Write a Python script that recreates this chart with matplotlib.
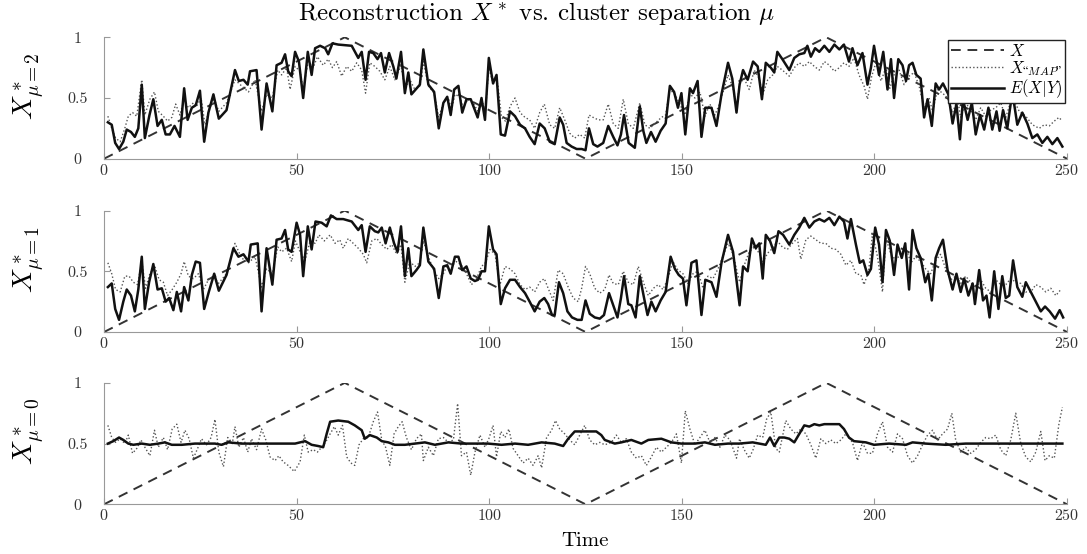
import matplotlib.pyplot as plt

plt.rcParams['font.family'] = 'serif'
plt.rcParams['font.serif'] = ['cmr10']
plt.rcParams['mathtext.fontset'] = 'cm'
plt.rcParams['axes.formatter.use_mathtext'] = True

# true signal X: triangle wave, corner points
x_time = [0, 62.5, 125, 187.5, 250]
x_true = [0, 1, 0, 1, 0]

# (time, value), mu = 2
mu2_post = [
    (1.0, 0.30), (2.0, 0.28), (2.9, 0.13), (3.9, 0.08), (5.0, 0.14), (5.9, 0.24), (7.0, 0.22), (8.0, 0.18),
    (8.9, 0.25), (9.8, 0.61), (10.6, 0.17), (11.8, 0.36), (12.8, 0.49), (13.9, 0.27), (15.0, 0.32), (16.0, 0.20),
    (17.1, 0.20), (18.3, 0.27), (19.7, 0.18), (20.8, 0.58), (21.7, 0.32), (22.8, 0.42), (23.8, 0.44), (24.9, 0.56),
    (26.0, 0.14), (27.1, 0.38), (28.4, 0.53), (29.8, 0.33), (31.8, 0.40), (34.0, 0.73), (35.0, 0.64), (36.2, 0.65),
    (37.3, 0.61), (37.9, 0.72), (39.6, 0.73), (40.9, 0.24), (42.2, 0.62), (43.7, 0.39), (44.8, 0.77), (46.1, 0.79),
    (47.0, 0.86), (47.8, 0.72), (48.7, 0.68), (49.6, 0.88), (50.6, 0.80), (51.7, 0.50), (52.9, 0.88), (53.9, 0.69),
    (54.8, 0.91), (56.1, 0.93), (57.4, 0.91), (58.2, 0.86), (59.3, 0.95), (60.8, 0.94), (64.3, 0.93), (66.0, 0.83),
    (66.9, 0.88), (67.9, 0.65), (68.8, 0.88), (69.9, 0.87), (71.0, 0.82), (71.9, 0.87), (72.9, 0.71), (74.0, 0.87),
    (75.1, 0.76), (75.9, 0.66), (77.1, 0.88), (78.1, 0.54), (79.0, 0.71), (79.8, 0.53), (80.9, 0.57), (82.0, 0.61),
    (82.9, 0.90), (84.2, 0.61), (85.7, 0.55), (86.9, 0.25), (88.1, 0.46), (89.1, 0.51), (90.0, 0.36), (90.9, 0.57),
    (92.0, 0.60), (93.0, 0.38), (94.1, 0.49), (95.2, 0.49), (97.0, 0.34), (98.0, 0.50), (98.9, 0.32), (99.9, 0.83),
    (101.0, 0.62), (101.9, 0.69), (103.0, 0.20), (104.1, 0.19), (105.4, 0.39), (106.7, 0.35), (108.0, 0.28),
    (109.3, 0.25), (110.5, 0.18), (111.8, 0.12), (113.1, 0.29), (114.4, 0.25), (115.7, 0.14), (117.0, 0.12),
    (118.3, 0.34), (119.2, 0.28), (120.1, 0.13), (121.4, 0.10), (122.7, 0.08), (124.0, 0.08), (125.0, 0.07),
    (125.9, 0.25), (127.0, 0.12), (128.1, 0.10), (129.6, 0.13), (130.9, 0.27), (132.2, 0.18), (133.3, 0.11),
    (134.2, 0.20), (135.0, 0.36), (136.2, 0.13), (137.8, 0.09), (139.1, 0.43), (140.0, 0.23), (140.8, 0.13),
    (142.0, 0.22), (143.2, 0.14), (144.5, 0.23), (145.8, 0.29), (146.9, 0.60), (148.0, 0.55), (149.0, 0.42),
    (149.9, 0.54), (150.9, 0.20), (152.1, 0.58), (152.9, 0.54), (154.1, 0.64), (155.1, 0.18), (156.1, 0.42),
    (157.7, 0.42), (159.0, 0.27), (160.3, 0.53), (162.0, 0.79), (163.1, 0.66), (164.2, 0.38), (165.0, 0.61),
    (165.9, 0.73), (167.1, 0.65), (168.5, 0.80), (169.7, 0.76), (170.8, 0.49), (171.8, 0.79), (173.1, 0.75),
    (174.0, 0.71), (174.8, 0.88), (176.1, 0.82), (177.9, 0.73), (179.2, 0.83), (180.5, 0.86), (181.8, 0.87),
    (182.6, 0.93), (183.5, 0.84), (184.6, 0.91), (185.7, 0.88), (187.0, 0.93), (188.3, 0.88), (189.6, 0.94),
    (190.9, 0.90), (192.1, 0.94), (193.4, 0.80), (194.3, 0.91), (195.6, 0.77), (196.9, 0.87), (198.2, 0.61),
    (199.1, 0.75), (199.9, 0.93), (201.2, 0.69), (202.3, 0.88), (203.4, 0.57), (204.3, 0.82), (205.1, 0.50),
    (206.2, 0.82), (207.3, 0.77), (208.2, 0.64), (209.0, 0.77), (209.9, 0.79), (210.9, 0.69), (212.0, 0.66),
    (212.9, 0.34), (213.8, 0.49), (214.9, 0.27), (215.9, 0.62), (216.8, 0.57), (217.8, 0.62), (219.2, 0.53),
    (220.3, 0.29), (221.3, 0.45), (222.2, 0.16), (223.0, 0.49), (224.2, 0.32), (225.3, 0.46), (226.3, 0.20),
    (227.4, 0.36), (228.5, 0.24), (229.6, 0.42), (230.6, 0.24), (231.7, 0.39), (232.5, 0.23), (233.4, 0.40),
    (234.5, 0.25), (235.8, 0.55), (237.1, 0.28), (238.4, 0.38), (239.7, 0.29), (241.0, 0.17), (242.3, 0.20),
    (243.6, 0.13), (244.9, 0.18), (246.2, 0.12), (247.5, 0.17), (248.8, 0.10),
]
mu2_map = [
    (1.0, 0.35), (2.0, 0.25), (3.0, 0.17), (4.2, 0.14), (5.3, 0.24), (6.3, 0.35), (7.4, 0.38), (8.5, 0.35),
    (9.8, 0.65), (10.6, 0.36), (11.9, 0.49), (13.1, 0.55), (14.1, 0.39), (15.4, 0.35), (16.5, 0.31), (17.6, 0.34),
    (18.6, 0.45), (19.7, 0.36), (20.8, 0.49), (21.9, 0.42), (23.2, 0.46), (24.0, 0.43), (25.2, 0.50), (26.2, 0.28),
    (27.5, 0.42), (28.6, 0.49), (29.8, 0.39), (31.8, 0.46), (34.0, 0.65), (35.7, 0.60), (37.5, 0.55), (39.2, 0.65),
    (40.9, 0.39), (42.2, 0.53), (43.7, 0.50), (45.1, 0.73), (46.1, 0.69), (47.4, 0.75), (48.3, 0.57), (49.6, 0.76),
    (50.9, 0.72), (51.7, 0.57), (53.0, 0.80), (54.3, 0.75), (55.4, 0.84), (56.9, 0.77), (58.2, 0.82), (59.3, 0.75),
    (60.4, 0.80), (61.7, 0.68), (63.0, 0.76), (64.3, 0.72), (65.6, 0.79), (66.9, 0.73), (67.9, 0.54), (69.0, 0.79),
    (70.3, 0.76), (71.6, 0.72), (72.9, 0.65), (74.2, 0.76), (75.5, 0.65), (77.1, 0.77), (78.1, 0.58), (79.4, 0.65),
    (80.7, 0.57), (82.0, 0.60), (82.9, 0.80), (84.2, 0.60), (85.7, 0.54), (86.9, 0.34), (88.1, 0.46), (89.4, 0.50),
    (90.2, 0.40), (91.1, 0.53), (92.4, 0.51), (93.2, 0.42), (94.5, 0.49), (95.8, 0.46), (97.1, 0.39), (98.0, 0.49),
    (99.0, 0.39), (99.9, 0.75), (101.0, 0.62), (102.2, 0.62), (103.2, 0.34), (104.2, 0.31), (105.4, 0.43),
    (106.7, 0.50), (108.0, 0.38), (109.3, 0.34), (110.5, 0.32), (111.8, 0.25), (113.1, 0.38), (114.3, 0.45),
    (115.7, 0.28), (117.0, 0.25), (118.3, 0.42), (119.6, 0.32), (120.9, 0.21), (122.2, 0.17), (123.5, 0.20),
    (124.8, 0.17), (125.9, 0.36), (127.0, 0.34), (128.3, 0.32), (129.6, 0.32), (130.9, 0.45), (132.2, 0.29),
    (133.5, 0.25), (134.8, 0.49), (136.1, 0.29), (137.4, 0.25), (139.1, 0.46), (140.4, 0.28), (141.7, 0.25),
    (143.0, 0.29), (144.7, 0.34), (145.8, 0.36), (146.9, 0.57), (148.2, 0.53), (149.5, 0.45), (150.8, 0.36),
    (152.1, 0.53), (153.4, 0.50), (154.7, 0.55), (156.0, 0.35), (157.3, 0.45), (158.6, 0.36), (159.9, 0.46),
    (162.0, 0.69), (163.3, 0.58), (164.2, 0.42), (165.0, 0.62), (166.2, 0.66), (167.5, 0.57), (168.8, 0.73),
    (170.1, 0.66), (171.0, 0.53), (172.3, 0.65), (173.6, 0.69), (174.8, 0.76), (176.1, 0.73), (177.9, 0.68),
    (179.2, 0.75), (180.5, 0.79), (181.8, 0.76), (183.1, 0.80), (184.4, 0.76), (185.7, 0.73), (187.0, 0.80),
    (188.3, 0.77), (189.6, 0.72), (190.9, 0.75), (192.1, 0.79), (193.4, 0.76), (194.7, 0.83), (196.0, 0.69),
    (197.3, 0.60), (198.2, 0.49), (199.3, 0.68), (200.4, 0.79), (201.7, 0.64), (203.0, 0.75), (204.0, 0.58),
    (205.1, 0.69), (206.4, 0.73), (207.7, 0.61), (209.0, 0.68), (210.3, 0.71), (211.6, 0.60), (212.9, 0.42),
    (214.2, 0.50), (215.1, 0.39), (216.4, 0.57), (217.7, 0.54), (219.0, 0.50), (220.3, 0.38), (221.6, 0.49),
    (222.4, 0.34), (223.7, 0.46), (225.0, 0.40), (226.3, 0.32), (227.6, 0.42), (228.9, 0.35), (230.2, 0.40),
    (231.5, 0.42), (232.8, 0.46), (234.1, 0.34), (235.8, 0.51), (237.6, 0.39), (239.3, 0.35), (241.0, 0.28),
    (242.8, 0.25), (244.1, 0.28), (245.4, 0.27), (246.7, 0.31), (247.9, 0.34), (248.8, 0.31),
]

# mu = 1
mu1_post = [
    (1.0, 0.37), (2.0, 0.40), (2.9, 0.19), (3.9, 0.10), (5.0, 0.25), (5.9, 0.35), (7.0, 0.30), (8.0, 0.17),
    (8.9, 0.35), (9.8, 0.62), (10.6, 0.19), (11.7, 0.41), (12.8, 0.56), (13.9, 0.35), (15.0, 0.36), (16.0, 0.25),
    (16.9, 0.28), (18.0, 0.18), (18.9, 0.33), (20.0, 0.17), (20.8, 0.37), (21.9, 0.26), (22.8, 0.47), (23.8, 0.58),
    (24.9, 0.57), (26.0, 0.19), (27.2, 0.33), (28.6, 0.48), (29.8, 0.34), (31.8, 0.47), (33.6, 0.69), (34.9, 0.62),
    (36.2, 0.64), (37.5, 0.58), (38.1, 0.72), (39.9, 0.73), (40.9, 0.17), (42.2, 0.69), (43.7, 0.39), (44.8, 0.76),
    (46.1, 0.77), (47.0, 0.84), (47.8, 0.68), (48.7, 0.66), (50.0, 0.90), (50.9, 0.80), (51.7, 0.46), (52.9, 0.87),
    (53.9, 0.68), (54.9, 0.91), (56.5, 0.90), (57.8, 0.87), (58.9, 0.96), (60.4, 0.93), (62.1, 0.93), (64.3, 0.91),
    (66.0, 0.84), (66.9, 0.88), (67.9, 0.66), (69.0, 0.87), (70.3, 0.83), (71.2, 0.82), (72.1, 0.86), (73.1, 0.73),
    (74.2, 0.86), (75.3, 0.73), (76.2, 0.66), (77.1, 0.87), (78.1, 0.46), (79.0, 0.69), (79.8, 0.46), (81.1, 0.51),
    (82.0, 0.55), (82.9, 0.86), (84.2, 0.58), (85.7, 0.52), (86.9, 0.28), (88.1, 0.54), (89.1, 0.55), (90.0, 0.48),
    (91.1, 0.62), (92.0, 0.62), (93.0, 0.51), (94.1, 0.54), (95.2, 0.44), (96.3, 0.42), (97.1, 0.43), (98.0, 0.50),
    (98.9, 0.50), (99.9, 0.87), (101.0, 0.68), (101.9, 0.64), (103.0, 0.23), (104.1, 0.36), (105.4, 0.43),
    (106.7, 0.43), (108.0, 0.37), (109.3, 0.32), (110.5, 0.25), (111.8, 0.17), (113.1, 0.25), (114.3, 0.28),
    (115.3, 0.23), (116.3, 0.14), (117.0, 0.14), (118.1, 0.41), (119.2, 0.32), (120.3, 0.17), (121.5, 0.12),
    (122.9, 0.10), (124.0, 0.10), (125.0, 0.26), (126.1, 0.15), (127.4, 0.12), (128.7, 0.11), (129.8, 0.14),
    (131.1, 0.32), (132.2, 0.22), (133.3, 0.12), (134.2, 0.28), (135.0, 0.46), (136.1, 0.23), (136.9, 0.22),
    (138.0, 0.12), (139.1, 0.46), (140.2, 0.28), (141.1, 0.14), (142.1, 0.25), (143.2, 0.17), (144.5, 0.26),
    (145.8, 0.33), (147.1, 0.62), (148.2, 0.52), (149.2, 0.47), (150.3, 0.44), (151.2, 0.22), (152.5, 0.57),
    (153.8, 0.59), (155.1, 0.14), (156.1, 0.43), (157.7, 0.41), (159.0, 0.29), (160.3, 0.57), (162.0, 0.80),
    (163.3, 0.66), (165.0, 0.22), (165.9, 0.54), (167.1, 0.50), (168.2, 0.77), (169.2, 0.69), (170.1, 0.73),
    (171.0, 0.44), (171.8, 0.80), (172.9, 0.75), (174.0, 0.65), (175.1, 0.83), (176.3, 0.80), (177.9, 0.72),
    (179.2, 0.80), (180.5, 0.86), (181.8, 0.94), (183.1, 0.86), (184.4, 0.91), (185.7, 0.93), (187.0, 0.91),
    (188.3, 0.94), (189.6, 0.88), (190.9, 0.95), (192.1, 0.91), (193.0, 0.77), (193.9, 0.93), (195.2, 0.72),
    (196.2, 0.57), (197.1, 0.59), (198.2, 0.47), (199.1, 0.52), (200.2, 0.86), (201.2, 0.72), (202.1, 0.41),
    (203.0, 0.84), (204.0, 0.75), (205.1, 0.47), (206.0, 0.72), (207.1, 0.61), (208.0, 0.73), (209.0, 0.35),
    (209.9, 0.84), (210.9, 0.69), (212.0, 0.61), (213.2, 0.41), (214.0, 0.48), (214.9, 0.26), (215.9, 0.61),
    (216.8, 0.69), (217.8, 0.76), (219.0, 0.51), (220.3, 0.35), (221.3, 0.48), (222.4, 0.33), (223.3, 0.44),
    (224.4, 0.30), (225.5, 0.40), (226.1, 0.23), (227.2, 0.51), (228.2, 0.26), (229.1, 0.30), (229.9, 0.12),
    (231.1, 0.50), (232.2, 0.19), (233.2, 0.46), (234.1, 0.28), (235.0, 0.30), (236.0, 0.59), (237.1, 0.37),
    (238.4, 0.29), (239.3, 0.41), (240.6, 0.33), (241.9, 0.25), (243.2, 0.17), (244.3, 0.21), (245.5, 0.17),
    (246.9, 0.11), (248.1, 0.18), (249.0, 0.12),
]
mu1_map = [
    (1.0, 0.57), (2.0, 0.48), (3.0, 0.35), (4.2, 0.33), (5.4, 0.46), (6.5, 0.46), (7.6, 0.41), (8.7, 0.39),
    (9.8, 0.58), (10.8, 0.36), (11.9, 0.48), (13.2, 0.54), (14.3, 0.43), (15.4, 0.41), (16.5, 0.30), (17.7, 0.35),
    (18.9, 0.41), (20.0, 0.48), (20.8, 0.58), (21.9, 0.46), (23.2, 0.44), (24.5, 0.48), (25.8, 0.35), (27.1, 0.43),
    (28.4, 0.46), (29.7, 0.40), (31.8, 0.48), (34.0, 0.73), (35.7, 0.61), (37.5, 0.57), (39.2, 0.62), (40.9, 0.37),
    (42.2, 0.52), (43.7, 0.48), (45.1, 0.70), (46.1, 0.66), (47.4, 0.69), (48.7, 0.58), (49.7, 0.75), (50.9, 0.66),
    (52.2, 0.59), (53.5, 0.75), (54.8, 0.73), (55.8, 0.80), (57.2, 0.75), (58.7, 0.80), (60.0, 0.73), (61.2, 0.76),
    (62.1, 0.69), (63.4, 0.77), (64.7, 0.73), (66.0, 0.69), (67.3, 0.64), (68.2, 0.57), (69.5, 0.75), (70.8, 0.77),
    (72.1, 0.72), (73.4, 0.68), (74.7, 0.72), (76.0, 0.64), (77.1, 0.72), (78.1, 0.41), (79.4, 0.58), (80.7, 0.54),
    (82.0, 0.57), (82.9, 0.75), (84.2, 0.62), (85.7, 0.50), (86.9, 0.44), (88.1, 0.48), (89.4, 0.57), (90.4, 0.55),
    (91.5, 0.58), (92.8, 0.55), (94.1, 0.48), (95.4, 0.39), (96.7, 0.44), (98.0, 0.54), (99.0, 0.57), (100.2, 0.68),
    (101.5, 0.64), (102.8, 0.39), (104.1, 0.54), (105.4, 0.52), (106.7, 0.48), (108.0, 0.39), (109.3, 0.35),
    (110.5, 0.37), (111.8, 0.33), (113.1, 0.41), (114.3, 0.44), (115.3, 0.36), (116.6, 0.26), (117.9, 0.51),
    (119.2, 0.48), (120.5, 0.37), (121.8, 0.28), (123.1, 0.25), (124.0, 0.36), (125.0, 0.54), (126.1, 0.48),
    (127.4, 0.36), (128.7, 0.32), (130.0, 0.35), (131.1, 0.47), (132.2, 0.40), (133.5, 0.39), (134.8, 0.50),
    (136.1, 0.41), (137.4, 0.39), (138.7, 0.54), (140.0, 0.41), (141.3, 0.30), (142.6, 0.36), (143.9, 0.39),
    (145.1, 0.35), (146.4, 0.44), (147.7, 0.58), (149.0, 0.51), (150.3, 0.48), (151.6, 0.40), (152.9, 0.48),
    (154.2, 0.50), (155.5, 0.36), (156.8, 0.46), (158.1, 0.44), (159.4, 0.52), (162.0, 0.73), (163.3, 0.64),
    (165.0, 0.41), (166.2, 0.55), (167.5, 0.66), (168.8, 0.70), (170.1, 0.65), (171.1, 0.58), (172.3, 0.65),
    (173.6, 0.69), (174.8, 0.75), (176.1, 0.70), (177.4, 0.68), (178.7, 0.73), (180.0, 0.77), (180.9, 0.60),
    (182.2, 0.76), (183.5, 0.79), (184.8, 0.76), (186.1, 0.73), (187.4, 0.73), (188.7, 0.69), (190.0, 0.68),
    (191.3, 0.64), (192.6, 0.55), (193.9, 0.59), (195.2, 0.48), (196.5, 0.47), (197.3, 0.39), (198.5, 0.50),
    (199.5, 0.81), (200.8, 0.62), (202.1, 0.33), (203.0, 0.77), (204.3, 0.64), (205.6, 0.59), (206.9, 0.65),
    (208.2, 0.69), (209.5, 0.57), (210.7, 0.62), (212.0, 0.58), (213.3, 0.52), (214.6, 0.48), (215.9, 0.59),
    (217.2, 0.64), (218.5, 0.52), (219.8, 0.43), (221.1, 0.46), (222.4, 0.40), (223.7, 0.46), (225.0, 0.41),
    (226.3, 0.36), (227.6, 0.43), (228.9, 0.36), (230.2, 0.33), (231.5, 0.43), (232.8, 0.39), (234.1, 0.39),
    (235.4, 0.44), (236.7, 0.41), (238.0, 0.40), (239.3, 0.33), (240.6, 0.33), (241.9, 0.39), (243.2, 0.37),
    (244.5, 0.33), (245.8, 0.36), (247.1, 0.30), (248.4, 0.35),
]

# mu = 0
mu0_post = [
    (1.0, 0.50), (2.4, 0.52), (3.9, 0.55), (5.0, 0.53), (6.3, 0.50), (7.6, 0.49), (9.8, 0.50), (11.9, 0.49),
    (14.1, 0.50), (15.8, 0.51), (17.6, 0.49), (20.2, 0.49), (23.6, 0.50), (27.1, 0.50), (28.8, 0.50), (30.5, 0.49),
    (32.3, 0.51), (35.7, 0.50), (39.2, 0.50), (42.6, 0.50), (46.1, 0.50), (49.6, 0.50), (52.2, 0.52), (53.9, 0.49),
    (55.6, 0.48), (56.9, 0.47), (57.8, 0.58), (58.7, 0.68), (60.8, 0.69), (63.4, 0.68), (65.1, 0.65), (66.9, 0.61),
    (67.7, 0.54), (69.0, 0.57), (70.8, 0.55), (72.1, 0.52), (73.8, 0.51), (75.5, 0.49), (78.1, 0.49), (80.7, 0.50),
    (83.3, 0.51), (85.9, 0.49), (89.4, 0.51), (92.8, 0.50), (96.3, 0.50), (99.7, 0.50), (103.2, 0.49), (106.7, 0.50),
    (110.1, 0.49), (113.6, 0.51), (117.0, 0.50), (119.2, 0.48), (120.5, 0.54), (122.2, 0.60), (124.0, 0.60),
    (125.7, 0.60), (127.8, 0.60), (129.1, 0.57), (130.0, 0.53), (132.6, 0.50), (134.3, 0.51), (136.9, 0.53),
    (139.5, 0.50), (141.3, 0.53), (144.7, 0.54), (147.3, 0.51), (149.9, 0.50), (153.4, 0.50), (156.0, 0.51),
    (158.6, 0.49), (162.0, 0.50), (164.9, 0.50), (168.4, 0.51), (171.8, 0.49), (172.9, 0.55), (174.0, 0.48),
    (175.3, 0.55), (176.6, 0.55), (177.9, 0.54), (179.2, 0.51), (180.5, 0.58), (181.8, 0.65), (183.1, 0.64),
    (184.4, 0.66), (185.7, 0.65), (187.0, 0.66), (189.1, 0.66), (190.9, 0.66), (192.1, 0.62), (193.4, 0.55),
    (194.7, 0.52), (197.8, 0.51), (199.9, 0.49), (203.8, 0.50), (208.2, 0.49), (209.9, 0.51), (213.3, 0.50),
    (218.5, 0.49), (223.7, 0.50), (228.9, 0.50), (234.1, 0.50), (239.3, 0.50), (244.5, 0.50), (248.8, 0.50),
]
mu0_map = [
    (1.0, 0.65), (2.0, 0.55), (3.0, 0.51), (4.2, 0.54), (5.4, 0.50), (6.3, 0.57), (7.4, 0.42), (8.5, 0.46),
    (9.6, 0.53), (10.6, 0.47), (11.9, 0.40), (13.1, 0.61), (14.1, 0.47), (15.4, 0.55), (16.5, 0.45), (17.7, 0.62),
    (18.9, 0.66), (20.0, 0.51), (21.0, 0.61), (22.1, 0.54), (23.2, 0.38), (24.3, 0.46), (25.3, 0.54), (26.6, 0.49),
    (27.8, 0.55), (28.8, 0.70), (29.8, 0.43), (31.0, 0.31), (32.1, 0.55), (33.3, 0.50), (34.0, 0.64), (35.0, 0.47),
    (36.2, 0.55), (37.3, 0.43), (38.3, 0.54), (39.6, 0.45), (40.9, 0.62), (42.0, 0.53), (43.1, 0.39), (44.4, 0.36),
    (45.4, 0.40), (46.5, 0.35), (47.8, 0.32), (49.4, 0.27), (50.9, 0.35), (52.0, 0.57), (53.0, 0.43), (54.3, 0.45),
    (55.4, 0.43), (56.5, 0.47), (57.5, 0.51), (58.7, 0.58), (59.8, 0.64), (60.8, 0.57), (61.9, 0.65), (63.0, 0.39),
    (64.1, 0.34), (65.1, 0.32), (66.2, 0.49), (67.3, 0.54), (68.6, 0.55), (69.9, 0.68), (71.0, 0.76), (72.1, 0.53),
    (73.1, 0.47), (74.2, 0.32), (75.3, 0.58), (76.4, 0.64), (77.4, 0.68), (78.5, 0.55), (79.8, 0.45), (81.1, 0.54),
    (82.4, 0.58), (82.9, 0.36), (84.2, 0.47), (85.5, 0.40), (86.8, 0.54), (88.1, 0.55), (89.4, 0.51), (90.7, 0.53),
    (91.8, 0.83), (92.8, 0.40), (94.1, 0.43), (95.2, 0.24), (96.3, 0.43), (97.6, 0.57), (98.9, 0.47), (99.9, 0.54),
    (101.0, 0.65), (101.9, 0.39), (103.0, 0.60), (104.1, 0.55), (105.1, 0.62), (106.2, 0.46), (107.5, 0.40),
    (108.8, 0.34), (110.1, 0.38), (111.4, 0.32), (112.7, 0.40), (113.6, 0.30), (114.9, 0.55), (116.2, 0.61),
    (117.2, 0.69), (118.3, 0.62), (119.6, 0.58), (120.9, 0.53), (122.2, 0.49), (123.5, 0.57), (124.8, 0.65),
    (126.1, 0.53), (127.4, 0.49), (128.7, 0.51), (130.0, 0.49), (131.7, 0.51), (133.0, 0.57), (134.3, 0.51),
    (135.6, 0.54), (136.9, 0.43), (138.2, 0.38), (139.5, 0.40), (140.8, 0.32), (142.1, 0.39), (143.4, 0.47),
    (144.7, 0.43), (146.0, 0.47), (147.3, 0.51), (148.6, 0.58), (149.9, 0.34), (150.9, 0.77), (152.1, 0.62),
    (153.4, 0.49), (154.7, 0.55), (156.0, 0.61), (157.3, 0.51), (158.6, 0.55), (159.9, 0.47), (161.2, 0.57),
    (162.5, 0.53), (164.2, 0.38), (165.0, 0.54), (166.2, 0.45), (167.5, 0.38), (168.5, 0.45), (169.7, 0.57),
    (171.0, 0.55), (172.0, 0.70), (173.1, 0.76), (174.4, 0.46), (175.3, 0.43), (177.0, 0.69), (178.3, 0.62),
    (179.6, 0.58), (180.9, 0.62), (182.2, 0.58), (183.5, 0.49), (184.8, 0.38), (186.1, 0.54), (187.4, 0.50),
    (188.7, 0.53), (190.0, 0.50), (191.3, 0.53), (192.6, 0.58), (194.3, 0.51), (195.6, 0.36), (196.9, 0.51),
    (198.2, 0.42), (199.5, 0.42), (200.8, 0.58), (202.1, 0.68), (203.4, 0.47), (204.7, 0.43), (206.0, 0.58),
    (207.3, 0.54), (208.6, 0.40), (209.9, 0.34), (211.2, 0.40), (212.5, 0.49), (213.8, 0.57), (215.1, 0.61),
    (216.4, 0.53), (217.7, 0.58), (219.0, 0.62), (220.1, 0.75), (221.1, 0.53), (222.4, 0.43), (223.7, 0.47),
    (225.0, 0.42), (226.3, 0.45), (227.6, 0.51), (228.9, 0.55), (230.2, 0.54), (231.5, 0.57), (232.8, 0.45),
    (234.1, 0.40), (235.4, 0.53), (236.7, 0.75), (238.0, 0.50), (239.3, 0.39), (240.6, 0.35), (241.9, 0.43),
    (243.2, 0.60), (244.3, 0.36), (245.4, 0.40), (246.7, 0.38), (247.9, 0.66), (248.8, 0.80),
]

panels = [
    (r'$X^*_{\mu=2}$', mu2_map, mu2_post),
    (r'$X^*_{\mu=1}$', mu1_map, mu1_post),
    (r'$X^*_{\mu=0}$', mu0_map, mu0_post),
]
bottoms = [0.7135, 0.4007, 0.0897]
height = 0.2192

fig = plt.figure(figsize=(10.87, 5.54), dpi=100)

for i, (ylab, map_pts, post_pts) in enumerate(panels):
    ax = fig.add_axes([0.0957, bottoms[i], 0.8859, height])
    ax.plot(x_time, x_true, color='#333333', lw=1.4, ls=(0, (5, 3.5)), label=r'$X$')
    tm, vm = zip(*map_pts)
    ax.plot(tm, vm, color='#555555', lw=1.0, ls=(0, (1, 1.6)), label=r'$X_{“MAP”}$')
    tp, vp = zip(*post_pts)
    ax.plot(tp, vp, color='#111111', lw=1.8, label=r'$E(X|Y)$')

    ax.set_xlim(0, 250)
    ax.set_ylim(0, 1)
    ax.set_xticks([0, 50, 100, 150, 200, 250])
    ax.set_yticks([0, 0.5, 1])
    ax.set_yticklabels(['0', '0.5', '1'], ha='center')
    for s in ['top', 'right']:
        ax.spines[s].set_visible(False)
    for s in ['left', 'bottom']:
        ax.spines[s].set_color('#999999')
        ax.spines[s].set_linewidth(0.8)
    ax.tick_params(direction='in', length=4, color='#999999', labelsize=11.5,
                   labelcolor='#333333')
    ax.tick_params(axis='x', pad=3)
    ax.tick_params(axis='y', pad=19)
    ax.set_ylabel(ylab, fontsize=20)
    ax.yaxis.set_label_coords(-0.060, 0.6)

    if i == 0:
        ax.legend(loc='upper right', bbox_to_anchor=(0.998, 0.975), borderaxespad=0,
                  fancybox=False, edgecolor='#222222', framealpha=1, fontsize=12,
                  handlelength=3.2, labelspacing=0.0, borderpad=0.15, handletextpad=0.3)

fig.text(0.494, 0.9765, r'Reconstruction $X^*$ vs. cluster separation $\mu$',
         ha='center', va='center', fontsize=18)
fig.text(0.538, 0.023, 'Time', ha='center', va='center', fontsize=15)

fig.savefig('out.png', dpi=100)
